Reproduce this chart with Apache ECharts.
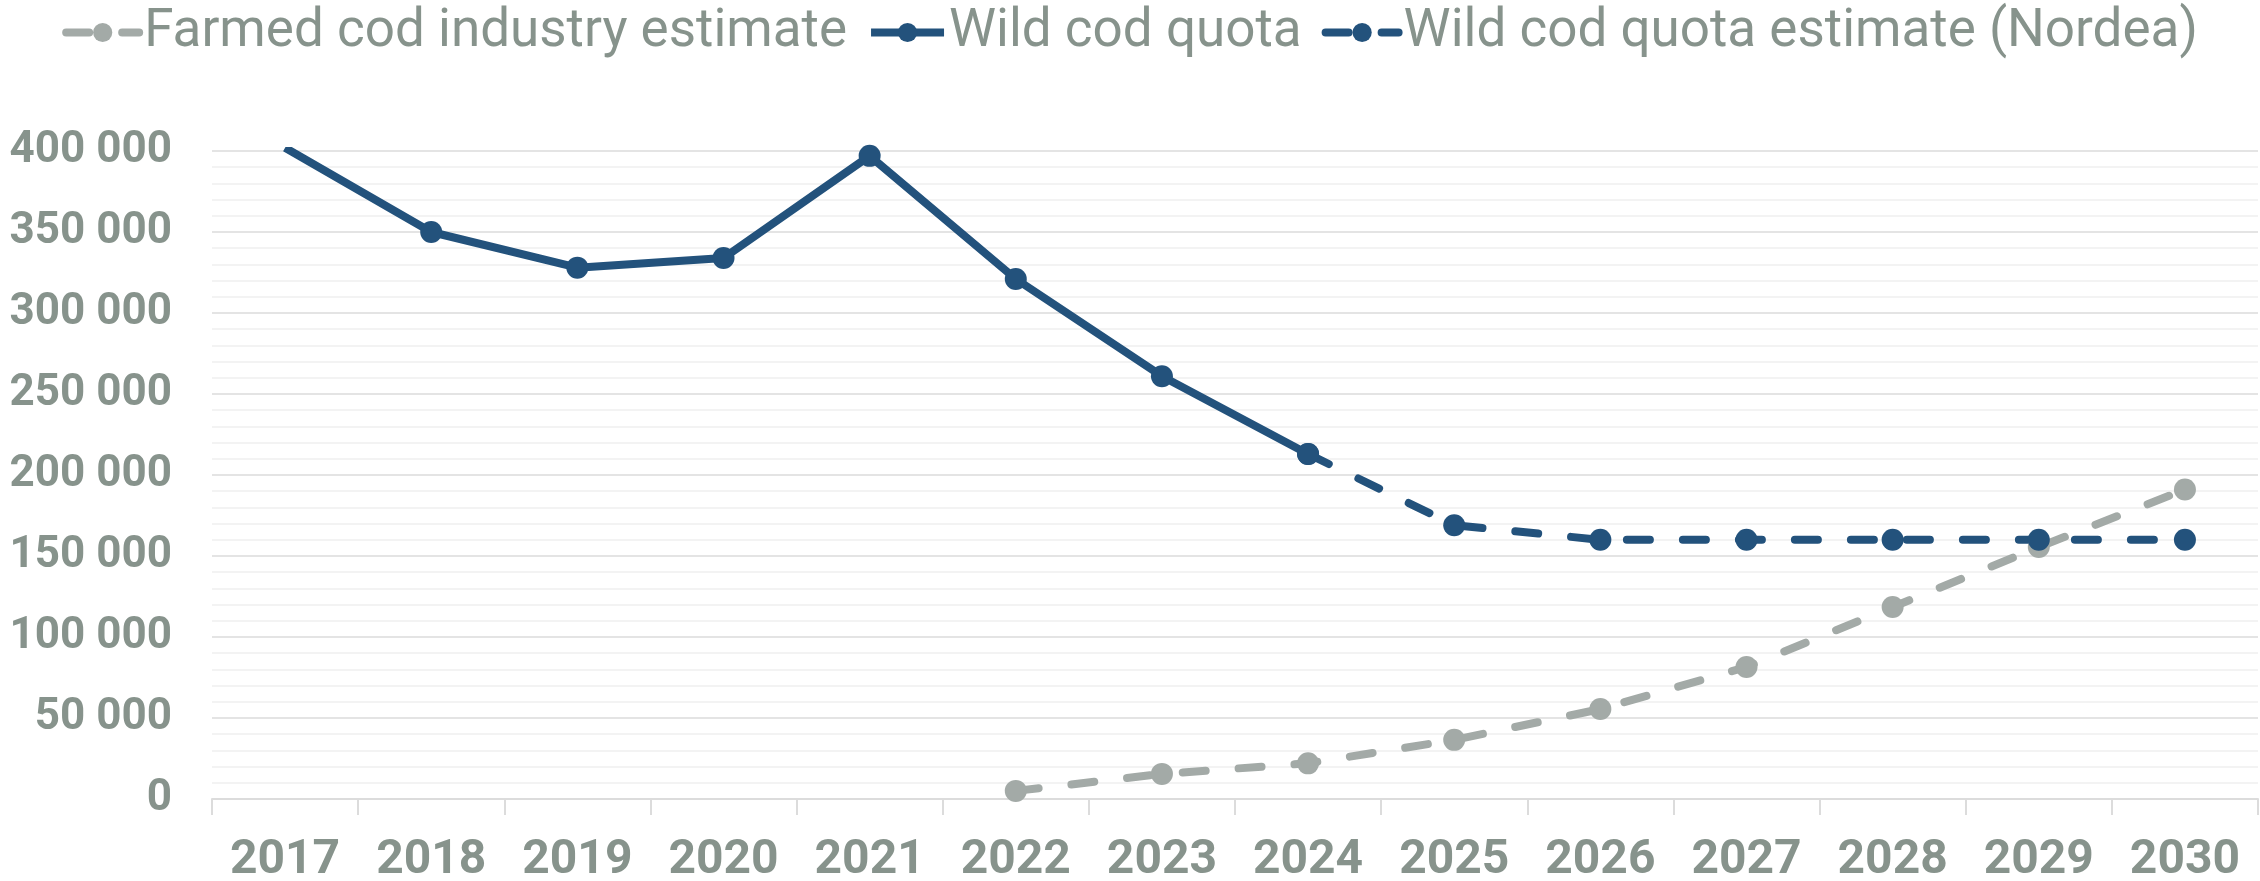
<!DOCTYPE html>
<html>
<head>
<meta charset="utf-8">
<script src="https://cdn.jsdelivr.net/npm/echarts@6/dist/echarts.min.js"></script>
<style>
  html, body { margin: 0; padding: 0; background: #fff; }
  #chart { width: 2260px; height: 881px; }
</style>
</head>
<body>
<div id="chart"></div>
<script>
// categories
let years = ['2017', '2018', '2019', '2020', '2021', '2022', '2023', '2024', '2025', '2026', '2027', '2028', '2029', '2030'];

// series values (tonnes)
let farmedEstimate = [null, null, null, null, null, 5000, 15500, 22000, 36500, 55500, 81500, 118500, 155500, 191000];
let wildQuota = [402000, 350000, 328000, 334000, 397000, 321000, 261000, 213000, null, null, null, null, null, null];
let wildQuotaEstimate = [null, null, null, null, null, null, null, 213000, 169000, 160000, 160000, 160000, 160000, 160000];

let seriesNames = ['Farmed cod industry estimate', 'Wild cod quota', 'Wild cod quota estimate (Nordea)'];

let textGray = '#87938c';
let blue = '#23527c';
let gray = '#a3aaa7';
let dash = [23, 33];

// "400 000" style thousands
function fmt(v)
{
    return String(v).replace(/\B(?=(\d{3})+(?!\d))/g, ' ');
}

var myChart = echarts.init(document.getElementById('chart'));

let option = {
    animation: false,
    legend: {
        top: 1,
        left: 'center',
        itemWidth: 73,
        itemHeight: 24,
        itemGap: 20,
        lineStyle: { width: 8 },
        textStyle: {
            fontFamily: 'Roboto',
            fontSize: 53,
            color: textGray
        },
        data: seriesNames
    },
    grid: {
        left: 212,
        right: 2,
        top: 151,
        bottom: 82,
        outerBoundsMode: 'none'
    },
    xAxis: {
        type: 'category',
        data: years,
        boundaryGap: true,
        axisLine: { lineStyle: { color: '#dcdcdc', width: 2 } },
        axisTick: { show: true, length: 16, lineStyle: { color: '#dcdcdc', width: 2 } },
        axisLabel: {
            margin: 38,
            fontFamily: 'Roboto',
            fontWeight: 'bold',
            fontSize: 48,
            color: textGray
        }
    },
    yAxis: {
        type: 'value',
        min: 0,
        max: 400000,
        interval: 50000,
        axisLine: { show: false },
        axisTick: { show: false },
        axisLabel: {
            margin: 40,
            fontFamily: 'Roboto',
            fontWeight: 'bold',
            fontSize: 44,
            color: textGray,
            formatter: fmt
        },
        splitLine: { lineStyle: { color: '#e4e4e4', width: 2 } },
        minorTick: { show: false, splitNumber: 5 },
        minorSplitLine: { show: true, lineStyle: { color: '#f3f3f3', width: 2 } }
    },
    series: [
        {
            name: seriesNames[0],
            type: 'line',
            data: farmedEstimate,
            symbol: 'circle',
            symbolSize: 22,
            z: 3,
            itemStyle: { color: gray },
            lineStyle: { color: gray, width: 8, type: dash, cap: 'round' }
        },
        {
            name: seriesNames[1],
            type: 'line',
            data: wildQuota,
            symbol: 'circle',
            symbolSize: 22,
            clip: true,
            itemStyle: { color: blue },
            lineStyle: { color: blue, width: 8 }
        },
        {
            name: seriesNames[2],
            type: 'line',
            data: wildQuotaEstimate,
            symbol: 'circle',
            symbolSize: 22,
            itemStyle: { color: blue },
            lineStyle: { color: blue, width: 8, type: dash, cap: 'round' }
        }
    ]
};

myChart.setOption(option);
</script>
</body>
</html>
